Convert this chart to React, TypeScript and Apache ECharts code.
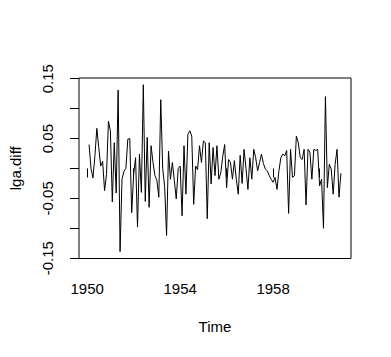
import React, { useEffect, useRef } from "react";
import * as echarts from "echarts";

// monthly series lga.diff, starting Feb 1950 (frequency 12)
const startYear = 1950;
const startMonth = 2;
const lgaDiff: number[] = [
  0.040, 0.000, -0.016, 0.020, 0.067, 0.035, 0.004, 0.012, -0.037, -0.010,
  0.079, 0.063, -0.056, 0.043, -0.041, 0.131, -0.139, -0.018, -0.005, 0.000,
  0.049, 0.050, -0.074, -0.010, 0.018, -0.098, 0.024, -0.040, 0.140, -0.055,
  0.052, -0.065, 0.038, 0.010, -0.012, -0.020, -0.048, 0.115, 0.000, -0.030,
  -0.112, 0.029, -0.018, 0.010, -0.020, -0.051, 0.000, 0.004, -0.079, 0.038,
  -0.043, 0.057, 0.063, 0.054, -0.060, 0.004, -0.002, 0.038, 0.010, 0.046,
  0.043, -0.084, 0.043, -0.026, 0.035, -0.012, 0.038, -0.018, -0.007, 0.020,
  0.040, -0.032, 0.015, 0.010, -0.018, 0.013, -0.018, -0.043, 0.022, -0.025,
  0.032, 0.000, -0.035, 0.018, -0.018, 0.032, 0.018, -0.004, 0.010, 0.024,
  0.008, -0.001, -0.004, -0.012, -0.018, -0.023, -0.015, -0.035, -0.004, 0.018,
  0.024, 0.021, 0.030, -0.075, 0.032, -0.015, -0.012, 0.054, 0.043, 0.018,
  0.015, 0.032, -0.061, 0.032, 0.027, -0.018, 0.032, 0.030, 0.032, -0.029,
  -0.018, -0.100, 0.120, -0.032, 0.007, -0.001, -0.043, 0.007, 0.032, -0.048,
  -0.008,
];

const xTicks = [1950, 1952, 1954, 1956, 1958, 1960];
const xLabels = [1950, 1954, 1958];
const yTicks = [-0.15, -0.1, -0.05, 0, 0.05, 0.1, 0.15];
const yLabels = [-0.15, -0.05, 0.05, 0.15];

const FONT = "Liberation Sans, Arial, Helvetica, sans-serif";

export default function App() {
  const ref = useRef<HTMLDivElement>(null);
  useEffect(() => {
    if (!ref.current) return;
    const chart = echarts.init(ref.current, undefined, { renderer: "svg" });
    const data = lgaDiff.map((v, i) => [startYear + (startMonth - 1 + i) / 12, v]);
    chart.setOption({
      animation: false,
      backgroundColor: "#ffffff",
      textStyle: { fontFamily: FONT },
      grid: {
        left: 79,
        right: 40,
        top: 78,
        bottom: 98.5,
        show: true,
        borderColor: "#000",
        borderWidth: 1,
        backgroundColor: "transparent",
      },
      xAxis: {
        type: "value",
        min: 1949.65,
        max: 1961.35,
        splitLine: { show: false },
        axisLine: { show: false },
        axisTick: {
          show: true,
          length: 9,
          customValues: xTicks,
          lineStyle: { color: "#000", width: 1 },
        },
        axisLabel: {
          customValues: xLabels,
          margin: 22,
          fontSize: 15,
          color: "#000",
          fontFamily: FONT,
          formatter: (v: number) => String(v),
        },
        name: "Time",
        nameLocation: "middle",
        nameGap: 60,
        nameTextStyle: { fontSize: 15, color: "#000", fontFamily: FONT },
      },
      yAxis: {
        type: "value",
        min: -0.1505,
        max: 0.1512,
        splitLine: { show: false },
        axisLine: { show: false },
        axisTick: {
          show: true,
          length: 9,
          customValues: yTicks,
          lineStyle: { color: "#000", width: 1 },
        },
        axisLabel: {
          customValues: yLabels,
          rotate: 90,
          margin: 24,
          fontSize: 15,
          color: "#000",
          fontFamily: FONT,
          formatter: (v: number) => v.toFixed(2),
        },
        name: "lga.diff",
        nameLocation: "middle",
        nameRotate: 90,
        nameGap: 56,
        nameTextStyle: { fontSize: 15, color: "#000", fontFamily: FONT },
      },
      series: [
        {
          type: "line",
          data,
          showSymbol: false,
          symbol: "none",
          lineStyle: { color: "#000", width: 1 },
        },
      ],
    });
    return () => chart.dispose();
  }, []);
  return (
    <div
      ref={ref}
      style={{ position: "fixed", left: 0, top: 0, width: 391, height: 357, background: "#fff" }}
    />
  );
}
